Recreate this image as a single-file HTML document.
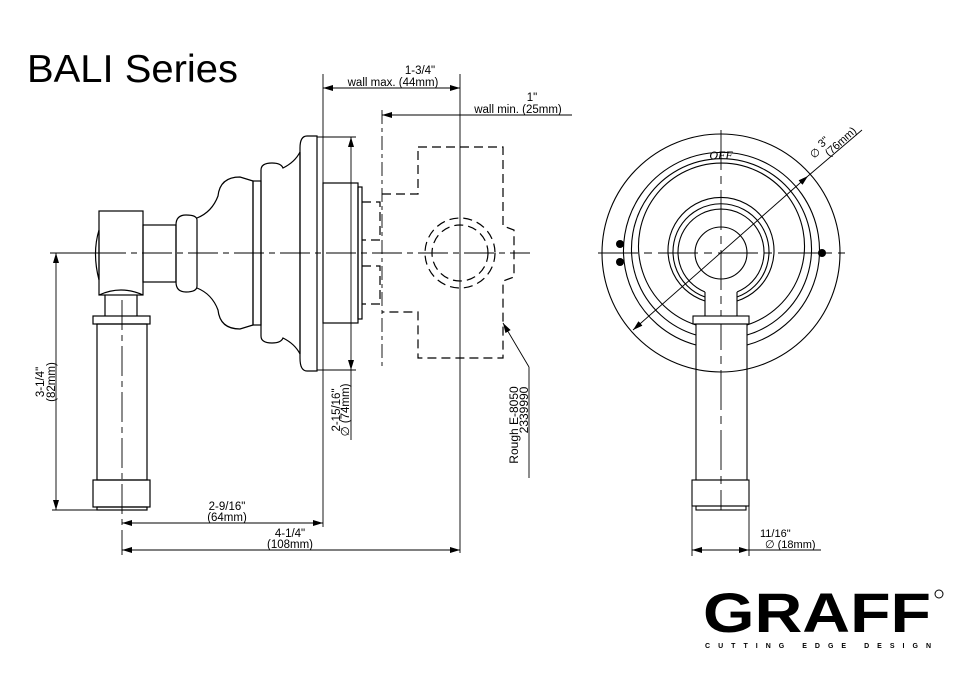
<!DOCTYPE html>
<html><head><meta charset="utf-8"><style>
html,body{margin:0;padding:0;background:#fff;}
svg{display:block;}
text{font-family:"Liberation Sans",Arial,sans-serif;fill:#000;}
</style></head><body>
<svg width="977" height="677" viewBox="0 0 977 677" xmlns="http://www.w3.org/2000/svg">
<defs>
<marker id="a" viewBox="0 0 10 6" refX="10" refY="3" markerWidth="10" markerHeight="6" markerUnits="userSpaceOnUse" orient="auto-start-reverse"><path d="M0,0 L10,3 L0,6 z" fill="#000"/></marker>
</defs>
<text x="27" y="82" font-size="39" textLength="211" lengthAdjust="spacingAndGlyphs">BALI Series</text>

<g fill="none" stroke="#000" stroke-width="1.2">
<line x1="50" y1="253" x2="530" y2="253" stroke-dasharray="30,5,6,5" stroke-width="0.9"/>
<line x1="122" y1="300" x2="122" y2="555" stroke-dasharray="30,5,6,5" stroke-width="0.9"/>
<line x1="460" y1="74" x2="460" y2="553" stroke-width="0.9"/>
<line x1="382" y1="110" x2="382" y2="370" stroke-dasharray="14,4,4,4" stroke-width="0.9"/>
<line x1="323" y1="74" x2="323" y2="527" stroke-width="0.9"/>

<path d="M99,230 Q92,253 99,280 Z"/>
<rect x="99" y="211" width="44" height="84"/>
<rect x="143" y="225" width="33" height="57"/>
<path d="M176,225 Q176,215 186,215 Q197,215 197,220 L197,286 Q197,292 186,292 Q176,292 176,282 Z"/>
<path d="M197,218 Q212,212 218,196 Q220,177 240,177 L253,181 L253,325 L240,329 Q220,329 218,310 Q212,294 197,288"/>
<rect x="253" y="181" width="8" height="144"/>
<path d="M261,170 Q261,163 272,163 Q281,163 283,168 Q295,162 300,152 L300,354 Q295,344 283,338 Q281,343 272,343 Q261,343 261,336 Z"/>
<path d="M317,136 L307,136 Q300,136 300,148 L300,358 Q300,371 307,371 L317,371 Z"/>
<rect x="323" y="183" width="35" height="140"/>
<rect x="358" y="187" width="4" height="132"/>
<path d="M105,295 L105,316 M137,295 L137,316"/>
<path d="M99,295 Q121,285 143,295"/>
<rect x="93" y="316" width="57" height="8"/>
<rect x="97" y="324" width="50" height="156"/>
<rect x="93" y="480" width="57" height="27"/>
<rect x="97" y="507" width="50" height="3"/>
</g>

<g fill="none" stroke="#000" stroke-width="1.2" stroke-dasharray="9,5">
<path d="M362,202 L380,202 L380,240 L362,240 M362,266 L380,266 L380,304 L362,304"/>
<path d="M418,147 L503,147 L503,226 L514,230 L514,277 L503,281 L503,358 L418,358 L418,312 L382,312 M382,194 L418,194 L418,147"/>
<circle cx="460" cy="253" r="35"/>
<circle cx="460" cy="253" r="28"/>
</g>

<g stroke="#000" stroke-width="0.9" fill="none">
<line x1="323" y1="88" x2="460" y2="88" marker-start="url(#a)" marker-end="url(#a)"/>
<line x1="382" y1="115" x2="460" y2="115" marker-start="url(#a)"/>
<line x1="460" y1="115" x2="572" y2="115"/>
<line x1="317" y1="137" x2="356" y2="137"/>
<line x1="317" y1="370" x2="356" y2="370"/>
<line x1="351" y1="137" x2="351" y2="370" marker-start="url(#a)" marker-end="url(#a)"/>
<line x1="351" y1="370" x2="351" y2="440"/>
<line x1="56" y1="253" x2="56" y2="510" marker-start="url(#a)" marker-end="url(#a)"/>
<line x1="50" y1="253" x2="99" y2="253"/>
<line x1="52" y1="510" x2="97" y2="510"/>
<line x1="122" y1="523" x2="323" y2="523" marker-start="url(#a)" marker-end="url(#a)"/>
<line x1="122" y1="550" x2="460" y2="550" marker-start="url(#a)" marker-end="url(#a)"/>
<line x1="529" y1="367" x2="503" y2="323" marker-end="url(#a)"/>
<line x1="529" y1="367" x2="529" y2="478"/>
</g>
<g font-size="11.5" text-anchor="middle">
<text x="420" y="74">1-3/4"</text>
<text x="393" y="86">wall max. (44mm)</text>
<text x="532" y="101">1"</text>
<text x="518" y="113">wall min. (25mm)</text>
<text x="227" y="510">2-9/16"</text>
<text x="227" y="521">(64mm)</text>
<text x="290" y="537">4-1/4"</text>
<text x="290" y="548">(108mm)</text>
<text transform="translate(44,382) rotate(-90)">3-1/4"</text>
<text transform="translate(55,382) rotate(-90)">(82mm)</text>
<text transform="translate(340,410) rotate(-90)">2-15/16"</text>
<text transform="translate(349,410) rotate(-90)">∅ (74mm)</text>
<text transform="translate(518,425) rotate(-90)" font-size="12">Rough E-8050</text>
<text transform="translate(528,410) rotate(-90)" font-size="12">2339990</text>
</g>

<g fill="none" stroke="#000" stroke-width="1.1">
<line x1="598" y1="253" x2="845" y2="253" stroke-dasharray="40,6,8,6" stroke-width="0.9"/>
<line x1="721" y1="130" x2="721" y2="510" stroke-dasharray="40,6,8,6" stroke-width="0.9"/>
<circle cx="721" cy="253" r="119"/>
<path d="M696,345 A98,98 0 1 1 747,345"/>
<path d="M696,335 A90,90 0 1 1 747,335"/>
<path d="M696,325 A83,83 0 1 1 747,325"/>
<path d="M705,301 A53,53 0 1 1 737,301"/>
<path d="M705,297 A48,48 0 1 1 737,297"/>
<path d="M705,292 A43,43 0 1 1 737,292"/>
<circle cx="721" cy="253" r="26"/>
<path d="M705,292 L705,316 M737,292 L737,316"/>
<rect x="693" y="316" width="56" height="8" fill="#fff"/>
<rect x="696" y="324" width="51" height="156"/>
<rect x="692" y="480" width="57" height="26"/>
<rect x="696" y="506" width="50" height="4"/>
<line x1="692" y1="506" x2="692" y2="556" stroke-width="0.9"/>
<line x1="749" y1="506" x2="749" y2="556" stroke-width="0.9"/>
<line x1="692" y1="550" x2="749" y2="550" stroke-width="0.9" marker-start="url(#a)" marker-end="url(#a)"/>
<line x1="749" y1="550" x2="821" y2="550" stroke-width="0.9"/>
<line x1="633" y1="330" x2="808" y2="176" stroke-width="0.9" marker-start="url(#a)" marker-end="url(#a)"/>
<line x1="808" y1="176" x2="862" y2="130" stroke-width="0.9"/>
</g>
<circle cx="620" cy="244" r="4"/>
<circle cx="620" cy="262" r="4"/>
<circle cx="822" cy="253" r="4"/>
<text x="721" y="159" font-size="12" font-style="italic" text-anchor="middle" style="font-family:'Liberation Serif',serif">OFF</text>
<g font-size="11">
<text transform="translate(814,159) rotate(-42)">∅</text>
<text transform="translate(822,148) rotate(-42)">3"</text>
<text transform="translate(829,157) rotate(-42)">(76mm)</text>
<text x="760" y="537">11/16"</text>
<text x="765" y="548">∅ (18mm)</text>
</g>

<text x="703" y="632" font-size="56" font-weight="bold" textLength="228" lengthAdjust="spacingAndGlyphs" style="font-family:'Liberation Sans',sans-serif">GRAFF</text>
<circle cx="939" cy="594" r="4" fill="none" stroke="#000" stroke-width="1"/>
<text x="705" y="648" font-size="7" font-weight="bold" textLength="226" lengthAdjust="spacing">CUTTING  EDGE  DESIGN</text>
</svg>
</body></html>
